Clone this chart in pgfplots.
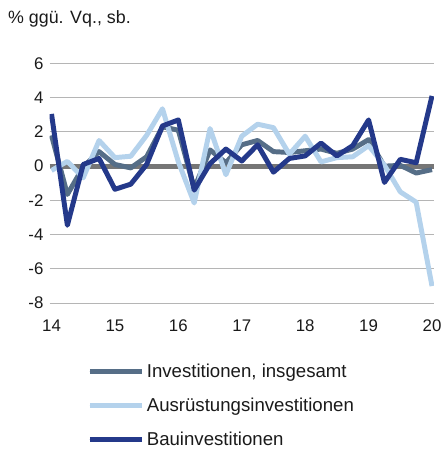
\documentclass[border=0pt]{standalone}
\usepackage{fontspec}
\setmainfont{Liberation Sans}
\usepackage{pgfplots}
\pgfplotsset{compat=1.18}
\definecolor{cgray}{HTML}{566E87}
\definecolor{clight}{HTML}{B4D2EC}
\definecolor{cdark}{HTML}{24398A}
\definecolor{czero}{HTML}{767676}
\definecolor{cgrid}{HTML}{B5B5B5}
\definecolor{ctext}{HTML}{1A1A1A}
\pgfplotstableread{
x     ges    aus    bau
14.00  1.80  -0.25  3.05
14.25 -1.65   0.28 -3.45
14.50 -0.05  -0.68  0.10
14.75  0.85   1.50  0.45
15.00  0.10   0.50 -1.35
15.25 -0.10   0.58 -1.05
15.50  0.55   1.80  0.10
15.75  2.30   3.35  2.35
16.00  2.10   0.25  2.70
16.25 -1.30  -2.15 -1.40
16.50  0.95   2.20  0.15
16.75  0.20  -0.50  1.00
17.00  1.25   1.75  0.30
17.25  1.50   2.45  1.25
17.50  0.85   2.25 -0.35
17.75  0.80   0.70  0.45
18.00  0.90   1.75  0.60
18.25  1.00   0.25  1.35
18.50  0.75   0.50  0.60
18.75  1.00   0.55  1.20
19.00  1.55   1.20  2.70
19.25  0.00   0.05 -0.95
19.50  0.05  -1.50  0.40
19.75 -0.40  -2.10  0.20
20.00 -0.20  -7.00  4.10
}\datatable
\begin{document}
\fontsize{18}{21}\selectfont
\color{ctext}
\begin{tikzpicture}
\path (-50pt,-144pt) rectangle (396pt,306pt);
\begin{axis}[
  scale only axis, width=388pt, height=242pt,
  xmin=13.969, xmax=20.031, ymin=-8, ymax=6,
  axis line style={draw=none},
  major tick length=0pt,
  xtick={14,15,16,17,18,19,20},
  xticklabels={14,15,16,17,18,19,20},
  ytick={-8,-6,-4,-2,0,2,4,6},
  yticklabels={-8,-6,-4,-2,0,2,4,6},
  ymajorgrids,
  grid style={cgrid, line width=1pt},
  ticklabel style={font=\fontsize{17}{20}\selectfont, text=ctext},
  xticklabel style={yshift=-11pt},
  yticklabel style={xshift=0pt},
  legend style={at={(axis description cs:0,0)}, anchor=north west,
    xshift=38pt, yshift=-59pt, draw=none, fill=none, inner sep=0pt,
    row sep=14pt, font=\fontsize{18.8}{21}\selectfont, text=ctext,
    cells={anchor=west}},
  legend image code/.code={\path (0pt,0pt) -- (53pt,0pt);\draw[#1, line width=5pt, line cap=round] (2.5pt,0pt) -- (49.5pt,0pt);},
  every axis plot/.append style={line width=5pt, line join=round},
]
\addplot[czero, forget plot, line cap=butt] coordinates {(13.969,0) (20.031,0)};
\addplot[cgray] table[x=x, y=ges] {\datatable};
\addlegendentry{Investitionen, insgesamt}
\addplot[clight] table[x=x, y=aus] {\datatable};
\addlegendentry{Ausrüstungsinvestitionen}
\addplot[cdark] table[x=x, y=bau] {\datatable};
\addlegendentry{Bauinvestitionen}
\end{axis}
\node[anchor=base west, inner sep=0pt] at (-42pt,282pt) {\% ggü. Vq., sb.};
\end{tikzpicture}
\end{document}
